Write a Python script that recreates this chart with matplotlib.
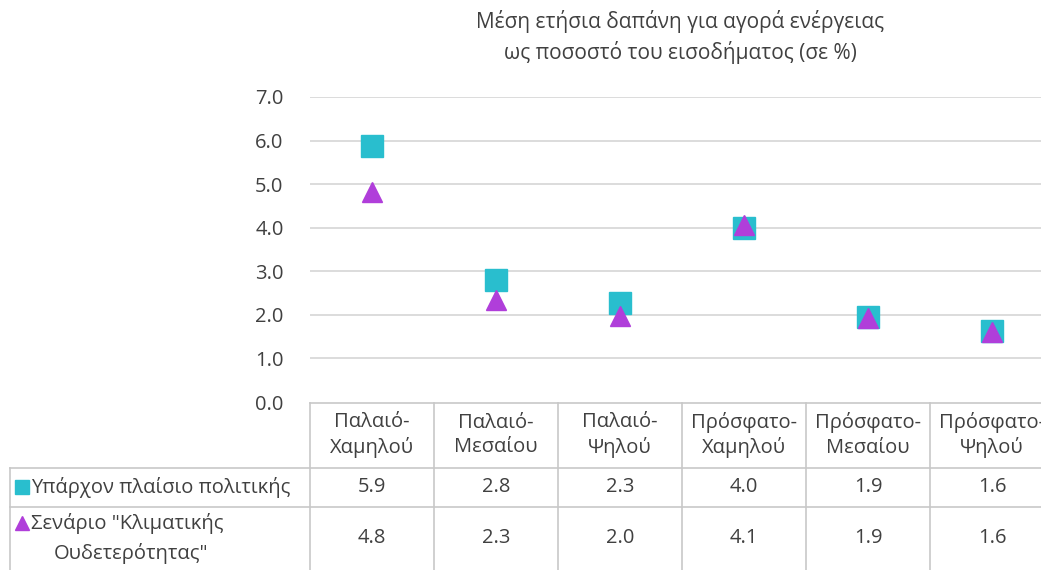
import matplotlib.pyplot as plt
import numpy as np

plt.rcParams['font.family'] = ['Open Sans', 'DejaVu Sans']

title = 'Μέση ετήσια δαπάνη για αγορά ενέργειας\nως ποσοστό του εισοδήματος (σε %)'
categories = ['Παλαιό-\nΧαμηλού', 'Παλαιό-\nΜεσαίου', 'Παλαιό-\nΨηλού',
              'Πρόσφατο-\nΧαμηλού', 'Πρόσφατο-\nΜεσαίου', 'Πρόσφατο-\nΨηλού']
series_names = ['Υπάρχον πλαίσιο πολιτικής', 'Σενάριο "Κλιματικής\nΟυδετερότητας"']
# point positions
current_policy = [5.87, 2.80, 2.27, 3.99, 1.94, 1.62]
neutrality = [4.82, 2.34, 1.97, 4.06, 1.93, 1.60]
# values printed in the data table
current_table = ['5.9', '2.8', '2.3', '4.0', '1.9', '1.6']
neutrality_table = ['4.8', '2.3', '2.0', '4.1', '1.9', '1.6']
yticks = [0, 1, 2, 3, 4, 5, 6, 7]

c_sq = '#29BECE'
c_tri = '#B03EDA'
grid_c = '#d9d9d9'
line_c = '#c8c8c8'
txt_c = '#404040'
fs = 14.5
W, H = 1041, 570

fig = plt.figure(figsize=(W / 100, H / 100), dpi=100)
ax = fig.add_axes([310 / W, (H - 402) / H, 744 / W, (402 - 97) / H])
x = np.arange(len(categories))
ax.plot(x, current_policy, 's', color=c_sq, markersize=15.5, zorder=3)
ax.plot(x, neutrality, '^', color=c_tri, markersize=15, zorder=4)
ax.set_xlim(-0.5, len(categories) - 0.5)
ax.set_ylim(0, 7)
ax.set_yticks(yticks)
ax.set_yticklabels([f'{v:.1f}' for v in yticks], fontsize=fs, color=txt_c)
ax.tick_params(axis='y', length=0, pad=19)
ax.set_xticks([])
for s in ax.spines.values():
    s.set_visible(False)
for v in yticks[1:]:
    ax.axhline(v, color=grid_c, lw=1.3, zorder=1)

fig.text(680 / W, 1 - 37 / H, title, ha='center', va='center', fontsize=15,
         color=txt_c, linespacing=1.45)

# data table, overlay in pixel coordinates
tab = fig.add_axes([0, 0, 1, 1])
tab.set_xlim(0, W)
tab.set_ylim(H, 0)
tab.axis('off')
bounds = np.linspace(310, 1054, len(categories) + 1)
centers = (bounds[:-1] + bounds[1:]) / 2
tab.plot([310, W], [403, 403], color=line_c, lw=1.2)
tab.plot([10, W], [468, 468], color=line_c, lw=1.2)
tab.plot([10, W], [507, 507], color=line_c, lw=1.2)
tab.plot([10, 10], [468, H], color=line_c, lw=1.2)
for b in bounds:
    tab.plot([b, b], [403, H], color=line_c, lw=1.2)
for cx, lab in zip(centers, categories):
    tab.text(cx, 435, lab, ha='center', va='center', fontsize=fs,
             color=txt_c, linespacing=1.3)
for cx, a, b in zip(centers, current_table, neutrality_table):
    tab.text(cx, 487, a, ha='center', va='center', fontsize=fs, color=txt_c)
    tab.text(cx, 538, b, ha='center', va='center', fontsize=fs, color=txt_c)

tab.plot([22], [487], 's', color=c_sq, markersize=10)
tab.text(31, 487, series_names[0], ha='left', va='center', fontsize=fs, color=txt_c)
tab.plot([22], [523], '^', color=c_tri, markersize=10)
l1, l2 = series_names[1].split('\n')
tab.text(31, 523, l1, ha='left', va='center', fontsize=fs, color=txt_c)
tab.text(131, 553, l2, ha='center', va='center', fontsize=fs, color=txt_c)

fig.savefig('out.png', dpi=100)
